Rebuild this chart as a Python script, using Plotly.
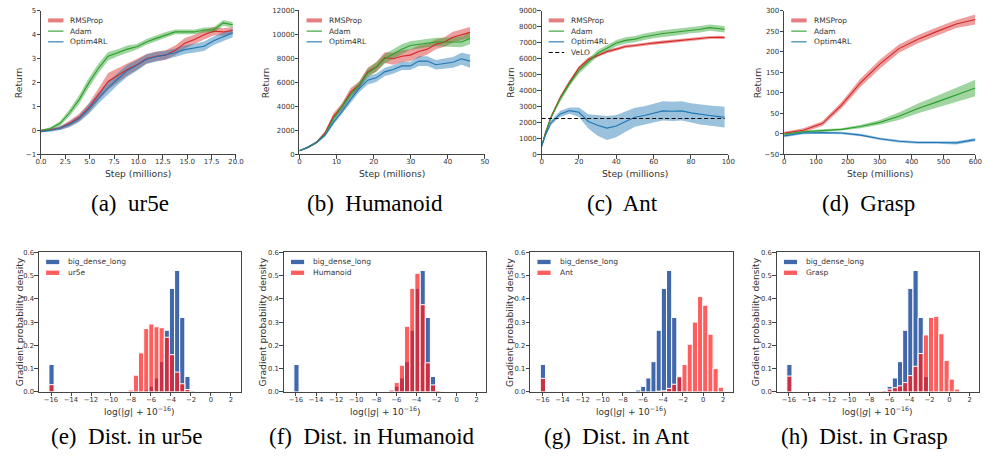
import plotly.graph_objects as go

W, H = 990, 464

# ---------------- Top row: training curves ----------------
ur5e_steps = [0, 0.98, 1.97, 2.95, 3.93, 4.92, 5.9, 6.88, 7.87, 8.85, 9.83, 10.82, 11.8, 12.78,
              13.77, 14.75, 15.73, 16.72, 17.7, 18.68, 19.66]
ur5e_rmsprop = [0, 0.03, 0.1, 0.3, 0.55, 0.95, 1.5, 2.05, 2.3, 2.55, 2.75, 3.0, 3.1, 3.15, 3.35,
                3.65, 3.8, 4.0, 4.15, 4.12, 4.18]
ur5e_rmsprop_err = [0.03, 0.05, 0.08, 0.12, 0.15, 0.2, 0.25, 0.35, 0.3, 0.25, 0.22, 0.2, 0.2, 0.2,
                    0.2, 0.22, 0.2, 0.2, 0.18, 0.15, 0.15]
ur5e_adam = [0, 0.08, 0.3, 0.75, 1.3, 2.0, 2.6, 3.1, 3.25, 3.4, 3.5, 3.7, 3.85, 4.0, 4.12, 4.12,
             4.12, 4.2, 4.2, 4.5, 4.42]
ur5e_adam_err = [0.03, 0.06, 0.1, 0.15, 0.18, 0.2, 0.2, 0.18, 0.15, 0.15, 0.12, 0.12, 0.12, 0.12,
                 0.1, 0.1, 0.1, 0.1, 0.12, 0.12, 0.12]
ur5e_optim4rl = [-0.05, 0.0, 0.1, 0.25, 0.5, 0.9, 1.35, 1.78, 2.15, 2.5, 2.72, 2.98, 3.08, 3.15,
                 3.25, 3.38, 3.45, 3.52, 3.75, 3.9, 4.08]
ur5e_optim4rl_err = [0.03, 0.05, 0.08, 0.12, 0.15, 0.2, 0.22, 0.25, 0.25, 0.25, 0.22, 0.2, 0.2,
                     0.18, 0.18, 0.18, 0.18, 0.2, 0.18, 0.18, 0.18]

hum_steps = [0, 2.3, 4.6, 6.9, 9.2, 11.5, 13.8, 16.1, 18.4, 20.7, 23.0, 25.3, 27.6, 29.9, 32.2,
             34.5, 36.8, 39.1, 41.4, 43.7, 46.0]
hum_rmsprop = [300, 600, 1000, 1800, 3200, 4000, 5200, 5800, 6900, 7300, 8100, 8000, 8200, 8300,
               8600, 8800, 9200, 9400, 9800, 10000, 10200]
hum_rmsprop_err = [50, 80, 100, 150, 250, 300, 350, 300, 350, 400, 450, 500, 500, 500, 500, 450,
                   400, 400, 450, 450, 450]
hum_adam = [300, 600, 1000, 1700, 3000, 4000, 5000, 5800, 6800, 7300, 8000, 8400, 8800, 9100,
            9200, 9300, 9400, 9400, 9400, 9400, 9700]
hum_adam_err = [50, 80, 100, 150, 200, 250, 300, 300, 350, 400, 400, 400, 400, 350, 350, 350, 350,
                350, 400, 450, 500]
hum_optim4rl = [300, 600, 1000, 1600, 2700, 3600, 4600, 5500, 6200, 6400, 6900, 7100, 7400, 7400,
                7800, 7800, 7500, 7600, 7700, 8000, 7800]
hum_optim4rl_err = [50, 80, 100, 150, 200, 250, 300, 300, 350, 350, 350, 350, 350, 350, 400, 400,
                    400, 400, 450, 500, 550]

ant_steps = [0, 2, 5, 8, 10, 15, 20, 25, 30, 35, 40, 45, 50, 55, 60, 65, 70, 75, 80, 85, 90, 95, 98]
ant_rmsprop = [500, 1350, 2330, 3100, 3570, 4540, 5430, 5950, 6210, 6440, 6600, 6770, 6830, 6920,
               6980, 7040, 7100, 7160, 7225, 7280, 7330, 7340, 7330]
ant_rmsprop_err = [50, 80, 100, 120, 120, 120, 120, 120, 110, 100, 100, 100, 100, 100, 100, 100,
                   100, 100, 100, 100, 100, 100, 100]
ant_adam = [500, 1300, 2300, 3050, 3500, 4450, 5250, 5800, 6350, 6650, 6980, 7150, 7230, 7380,
            7490, 7580, 7640, 7700, 7800, 7850, 7950, 7900, 7850]
ant_adam_err = [50, 80, 120, 150, 150, 180, 200, 200, 200, 200, 200, 200, 200, 200, 200, 200, 200,
                200, 200, 200, 200, 200, 200]
ant_optim4rl = [500, 1200, 1980, 2350, 2540, 2745, 2640, 2065, 1820, 1650, 1775, 2065, 2330, 2440,
                2580, 2725, 2700, 2725, 2600, 2500, 2440, 2370, 2330]
ant_optim4rl_err = [50, 100, 150, 180, 200, 200, 300, 450, 650, 750, 700, 650, 600, 580, 580, 600,
                    600, 600, 600, 620, 620, 650, 650]
ant_velo = 2250

grasp_steps = [0, 60, 120, 180, 240, 300, 360, 420, 480, 540, 600]
grasp_rmsprop = [2, 9, 25, 70, 125, 170, 208, 231, 250, 268, 279]
grasp_rmsprop_err = [3, 5, 6, 8, 10, 11, 10, 10, 10, 10, 12]
grasp_adam = [-1, 5, 8, 11, 18, 28, 43, 62, 78, 95, 112]
grasp_adam_err = [3, 3, 3, 3, 4, 6, 9, 12, 15, 17, 20]
grasp_optim4rl = [-5, 2, 3, 2, -3, -12, -18, -21, -21, -22, -14]
grasp_optim4rl_err = [3, 3, 3, 3, 3, 3, 3, 3, 3, 4, 4]

# ---------------- Bottom row: gradient histograms ----------------
bin_centers = [-15.95, -15.23, -14.71, -14.20, -13.68, -13.17, -12.65, -12.14, -11.62, -11.11,
               -10.59, -10.08, -9.56, -9.05, -8.53, -8.02, -7.50, -6.99, -6.47, -5.96, -5.44,
               -4.93, -4.41, -3.90, -3.38, -2.87, -2.35, -1.84, -1.32, -0.81, -0.29, 0.22, 0.74,
               1.25, 1.77, 2.28]
bin_width = 0.515
dens_big_dense_long = [0.118, 0, 0, 0, 0, 0, 0, 0, 0, 0, 0, 0, 0, 0, 0, 0, 0, 0, 0.008, 0.024,
                       0.06, 0.13, 0.265, 0.445, 0.522, 0.32, 0.066, 0.004, 0, 0, 0, 0, 0, 0, 0, 0]
dens_ur5e = [0.031, 0, 0, 0, 0, 0, 0, 0, 0, 0, 0, 0, 0, 0, 0.002, 0.008, 0.072, 0.168, 0.272,
             0.292, 0.28, 0.276, 0.235, 0.16, 0.085, 0.035, 0.01, 0, 0, 0, 0, 0, 0, 0, 0, 0]
dens_humanoid = [0, 0, 0, 0, 0, 0, 0, 0, 0, 0, 0, 0, 0, 0, 0, 0, 0, 0, 0.008, 0.04, 0.115, 0.282,
                 0.445, 0.51, 0.375, 0.125, 0.03, 0.006, 0.002, 0, 0, 0, 0, 0, 0, 0]
dens_ant = [0.058, 0, 0, 0, 0, 0, 0, 0, 0, 0, 0, 0, 0, 0, 0, 0, 0, 0, 0, 0, 0, 0, 0.003, 0.005,
            0.015, 0.033, 0.065, 0.118, 0.205, 0.30, 0.41, 0.373, 0.248, 0.1, 0.02, 0]
dens_grasp = [0.068, 0, 0, 0, 0, 0, 0.003, 0.003, 0.003, 0.003, 0.003, 0.003, 0.003, 0.003, 0.003,
              0.003, 0.003, 0.003, 0.006, 0.012, 0.018, 0.026, 0.04, 0.07, 0.11, 0.165, 0.245,
              0.32, 0.325, 0.25, 0.135, 0.055, 0.012, 0, 0, 0]

captions_top = ["(a)\u00a0 ur5e", "(b)\u00a0 Humanoid", "(c)\u00a0 Ant", "(d)\u00a0 Grasp"]
captions_bot = ["(e)\u00a0 Dist. in ur5e", "(f)\u00a0 Dist. in Humanoid",
                "(g)\u00a0 Dist. in Ant", "(h)\u00a0 Dist. in Grasp"]
series_names = ["RMSProp", "Adam", "Optim4RL"]
env_names = ["ur5e", "Humanoid", "Ant", "Grasp"]

# ---------------- styling / layout ----------------
COL = {"RMSProp": (214, 39, 40), "Adam": (44, 160, 44), "Optim4RL": (31, 119, 180)}
BLUE_BAR = "rgb(66,104,172)"
RED_BAR = "rgba(255,25,25,0.7)"
FONT = "DejaVu Sans, Verdana, sans-serif"
SERIF = "Liberation Serif, Times New Roman, serif"
TXT = "#333333"
AXC = "#444444"

top_boxes = [(35.5, 233.3), (297.7, 485.7), (543.3, 732.7), (789.3, 983.3)]
top_y = (7, 153)
bot_boxes = [(33.3, 238.0), (281.7, 487.3), (531.7, 737.3), (781.7, 987.3)]
bot_y = (252.7, 394.7)
top_ytitle_x = [12.7, 263.3, 512.3, 762.3]
bot_ytitle_x = [13.3, 260.0, 510.0, 760.0]
cap_top_x = [126, 374.7, 625, 874.7]
cap_bot_x = [122, 371, 620, 870.7]


def px(x):
    return x / W


def py(y):
    return 1 - y / H


def rgba(c, a):
    return "rgba(%d,%d,%d,%s)" % (c[0], c[1], c[2], a)


fig = go.Figure()

top_data = [
    (ur5e_steps, [(ur5e_rmsprop, ur5e_rmsprop_err), (ur5e_adam, ur5e_adam_err),
                  (ur5e_optim4rl, ur5e_optim4rl_err)]),
    (hum_steps, [(hum_rmsprop, hum_rmsprop_err), (hum_adam, hum_adam_err),
                 (hum_optim4rl, hum_optim4rl_err)]),
    (ant_steps, [(ant_rmsprop, ant_rmsprop_err), (ant_adam, ant_adam_err),
                 (ant_optim4rl, ant_optim4rl_err)]),
    (grasp_steps, [(grasp_rmsprop, grasp_rmsprop_err), (grasp_adam, grasp_adam_err),
                   (grasp_optim4rl, grasp_optim4rl_err)]),
]
top_ranges = [((0, 20), (-1, 5), 2.5, 1, ".1f"), ((0, 50), (0, 12000), 10, 2000, "d"),
              ((0, 100), (0, 9000), 20, 1000, "d"), ((0, 600), (-50, 300), 100, 50, "d")]

for i, (steps, series) in enumerate(top_data):
    ax = "" if i == 0 else str(i + 1)
    for name, (mean, err) in zip(series_names, series):
        c = COL[name]
        upper = [m + e for m, e in zip(mean, err)]
        lower = [m - e for m, e in zip(mean, err)]
        fig.add_trace(go.Scatter(x=list(steps) + list(steps)[::-1], y=upper + lower[::-1],
                                 fill="toself", fillcolor=rgba(c, 0.45), line=dict(width=0),
                                 mode="lines", hoverinfo="skip", showlegend=False,
                                 xaxis="x" + ax, yaxis="y" + ax))
    for name, (mean, err) in zip(series_names, series):
        c = COL[name]
        fig.add_trace(go.Scatter(x=steps, y=mean, mode="lines", name=name,
                                 line=dict(color=rgba(c, 1), width=1.1), showlegend=False,
                                 xaxis="x" + ax, yaxis="y" + ax))
    if i == 2:
        fig.add_trace(go.Scatter(x=[steps[0], steps[-1]], y=[ant_velo, ant_velo], mode="lines",
                                 name="VeLO", line=dict(color="black", width=1.1, dash="4px,2.5px"),
                                 showlegend=False, xaxis="x3", yaxis="y3"))

hist_red = [dens_ur5e, dens_humanoid, dens_ant, dens_grasp]
for j in range(4):
    n = j + 5
    ax = str(n)
    bx = [c for c, v in zip(bin_centers, dens_big_dense_long) if v > 0]
    by = [v for v in dens_big_dense_long if v > 0]
    fig.add_trace(go.Bar(x=bx, y=by, width=bin_width, marker=dict(color=BLUE_BAR,
                         line=dict(color="white", width=1)), name="big_dense_long",
                         showlegend=False, xaxis="x" + ax, yaxis="y" + ax))
    rx = [c for c, v in zip(bin_centers, hist_red[j]) if v > 0]
    ry = [v for v in hist_red[j] if v > 0]
    fig.add_trace(go.Bar(x=rx, y=ry, width=bin_width, marker=dict(color=RED_BAR,
                         line=dict(color="white", width=1)), name=env_names[j],
                         showlegend=False, xaxis="x" + ax, yaxis="y" + ax))

layout = dict(width=W, height=H, margin=dict(l=0, r=0, t=0, b=0), autosize=False,
              paper_bgcolor="white", plot_bgcolor="white", barmode="overlay",
              font=dict(family=FONT, color=TXT), showlegend=False)

axis_common = dict(showline=True, linecolor=AXC, linewidth=0.9, ticks="outside", ticklen=3.5,
                   tickwidth=0.9, tickcolor=AXC, showgrid=False, zeroline=False,
                   tickfont=dict(family=FONT, size=7, color=TXT))

annotations = []
shapes = []

for i in range(4):
    k = "" if i == 0 else str(i + 1)
    (x0, x1) = top_boxes[i]
    xr, yr, dx, dy, fmt = top_ranges[i]
    layout["xaxis" + k] = dict(axis_common, domain=[px(x0), px(x1)], range=list(xr),
                               tick0=xr[0], dtick=dx, tickformat=fmt, anchor="y" + k,
                               ticklabelstandoff=-3)
    layout["yaxis" + k] = dict(axis_common, domain=[py(top_y[1]), py(top_y[0])], range=list(yr),
                               tick0=yr[0], dtick=dy, tickformat="d", anchor="x" + k,
                               ticklabelstandoff=-1)
    cx = (x0 + x1) / 2
    annotations.append(dict(text="Step (millions)", x=px(cx), y=py(172.5), xref="paper",
                            yref="paper", showarrow=False, xanchor="center", yanchor="middle",
                            font=dict(size=9.2, family=FONT, color=TXT)))
    annotations.append(dict(text="Return", x=px(top_ytitle_x[i]), y=py(80), xref="paper",
                            yref="paper", showarrow=False, textangle=-90, xanchor="center",
                            yanchor="middle", font=dict(size=9.2, family=FONT, color=TXT)))
    annotations.append(dict(text=captions_top[i], x=px(cap_top_x[i]), y=py(203), xref="paper",
                            yref="paper", showarrow=False, xanchor="center", yanchor="middle",
                            font=dict(size=23, family=SERIF, color="black")))
    # legend
    entries = [("RMSProp", "thick"), ("Adam", "line"), ("Optim4RL", "line")]
    if i == 2:
        entries.append(("VeLO", "dash"))
    for e, (nm, kind) in enumerate(entries):
        yy = top_y[0] + 9.7 + 10.9 * e
        if kind == "thick":
            shapes.append(dict(type="line", xref="paper", yref="paper", x0=px(x0 + 7.2),
                               x1=px(x0 + 22.8), y0=py(yy), y1=py(yy),
                               line=dict(color=rgba(COL[nm], 0.6), width=4)))
        elif kind == "line":
            shapes.append(dict(type="line", xref="paper", yref="paper", x0=px(x0 + 7.2),
                               x1=px(x0 + 22.8), y0=py(yy), y1=py(yy),
                               line=dict(color=rgba(COL[nm], 1), width=1.1)))
        else:
            shapes.append(dict(type="line", xref="paper", yref="paper", x0=px(x0 + 7.2),
                               x1=px(x0 + 22.8), y0=py(yy), y1=py(yy),
                               line=dict(color="black", width=1.1, dash="4px,2.5px")))
        annotations.append(dict(text=nm, x=px(x0 + 27.8), y=py(yy), xref="paper", yref="paper",
                                showarrow=False, xanchor="left", yanchor="middle",
                                font=dict(size=7.5, family=FONT, color=TXT)))

for j in range(4):
    k = str(j + 5)
    (x0, x1) = bot_boxes[j]
    layout["xaxis" + k] = dict(axis_common, domain=[px(x0), px(x1)], range=[-17.22, 2.97],
                               tick0=-16, dtick=2, tickformat="d", mirror=True, anchor="y" + k,
                               tickfont=dict(family=FONT, size=6.8, color=TXT),
                               ticklabelstandoff=-3)
    layout["yaxis" + k] = dict(axis_common, domain=[py(bot_y[1]), py(bot_y[0])], range=[0, 0.6],
                               tick0=0, dtick=0.1, tickformat=".1f", mirror=True, anchor="x" + k,
                               tickfont=dict(family=FONT, size=6.8, color=TXT),
                               ticklabelstandoff=-1)
    cx = (x0 + x1) / 2
    annotations.append(dict(text="log(|<i>g</i>| + 10<sup>\u221216</sup>)", x=px(cx), y=py(414.5),
                            xref="paper", yref="paper", showarrow=False, xanchor="center",
                            yanchor="middle", font=dict(size=9, family=FONT, color=TXT)))
    annotations.append(dict(text="Gradient probability density", x=px(bot_ytitle_x[j]),
                            y=py(323.7), xref="paper", yref="paper", showarrow=False,
                            textangle=-90, xanchor="center", yanchor="middle",
                            font=dict(size=9.2, family=FONT, color=TXT)))
    annotations.append(dict(text=captions_bot[j], x=px(cap_bot_x[j]), y=py(440), xref="paper",
                            yref="paper", showarrow=False, xanchor="center", yanchor="middle",
                            font=dict(size=23, family=SERIF, color="black")))
    for e, (nm, colr) in enumerate([("big_dense_long", BLUE_BAR), (env_names[j], RED_BAR)]):
        yy = bot_y[0] + 9.8 + 11 * e
        shapes.append(dict(type="rect", xref="paper", yref="paper", x0=px(x0 + 7.4),
                           x1=px(x0 + 20.7), y0=py(yy - 2.2), y1=py(yy + 2.2),
                           fillcolor=colr, line=dict(width=0)))
        annotations.append(dict(text=nm, x=px(x0 + 27.8), y=py(yy), xref="paper", yref="paper",
                                showarrow=False, xanchor="left", yanchor="middle",
                                font=dict(size=7.5, family=FONT, color=TXT)))

layout["annotations"] = annotations
layout["shapes"] = shapes
fig.update_layout(**layout)
fig.write_html("out.html")
